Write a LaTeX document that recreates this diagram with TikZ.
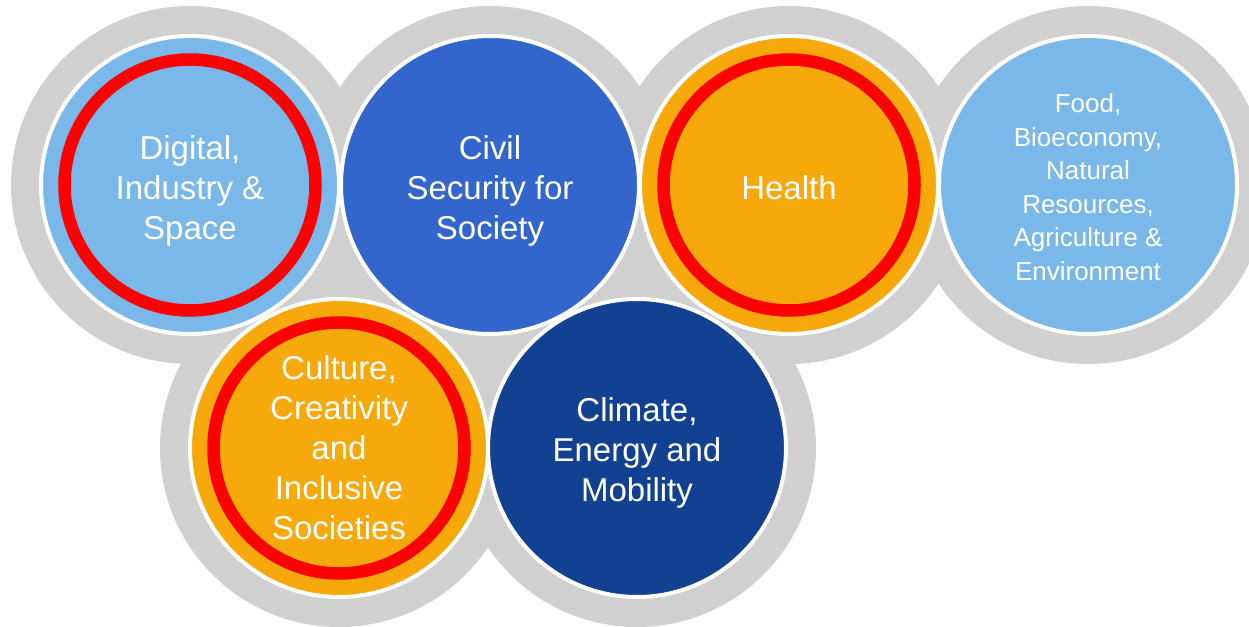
\documentclass[tikz,border=0pt]{standalone}
\usepackage{fontspec}
\setmainfont{Liberation Sans}
\definecolor{gring}{HTML}{D0D0D0}
\definecolor{lblue}{HTML}{7AB8EA}
\definecolor{mblue}{HTML}{3366CC}
\definecolor{dblue}{HTML}{134192}
\definecolor{orng}{HTML}{F7A80A}
\definecolor{rring}{HTML}{FF0000}
\tikzset{
  topic/.style={circle, draw=white, line width=4pt, minimum size=298pt, inner sep=0pt},
  txt/.style={text=white, align=center, inner sep=0pt, font=\fontsize{33}{40}\selectfont},
  smalltxt/.style={txt, font=\fontsize{26}{33.5}\selectfont},
  halo/.style={fill=gring},
  redring/.style={draw=rring, line width=12.5pt}
}
\begin{document}
\begin{tikzpicture}[x=1pt,y=-1pt]
\useasboundingbox (0,0) rectangle (1249,626);
\clip (0,0) rectangle (1249,626);
\coordinate (cd) at (190,185);
\coordinate (cc) at (490,185);
\coordinate (ch) at (789,185);
\coordinate (cf) at (1088,185);
\coordinate (cu) at (339,448);
\coordinate (cm) at (637,448);
% grey halos
\foreach \c in {cd,cc,ch,cf,cu,cm} \fill[halo] (\c) circle (179);
% topic circles
\node[topic, fill=lblue] (digital) at (cd) {};
\node[topic, fill=mblue] (civil) at (cc) {};
\node[topic, fill=orng] (health) at (ch) {};
\node[topic, fill=lblue] (food) at (cf) {};
\node[topic, fill=orng] (culture) at (cu) {};
\node[topic, fill=dblue] (climate) at (cm) {};
% red rings
\draw[redring] (digital.center) circle (125.5);
\draw[redring] (health.center) circle (125.5);
\draw[redring] (culture.center) circle (125.5);
% texts
\node[txt, yshift=-6pt] (digital-t) at (digital.center) {Digital,\\Industry \&\\Space};
\node[txt, yshift=-6pt] (civil-t) at (civil.center) {Civil\\Security for\\Society};
\node[txt, yshift=-3pt] (health-t) at (health.center) {Health};
\node[smalltxt, yshift=-2pt] (food-t) at (food.center) {Food,\\Bioeconomy,\\Natural\\Resources,\\Agriculture \&\\Environment};
\node[txt] (culture-t) at (culture.center) {Culture,\\Creativity\\and\\Inclusive\\Societies};
\node[txt, yshift=-5pt] (climate-t) at (climate.center) {Climate,\\Energy and\\Mobility};
\end{tikzpicture}
\end{document}
